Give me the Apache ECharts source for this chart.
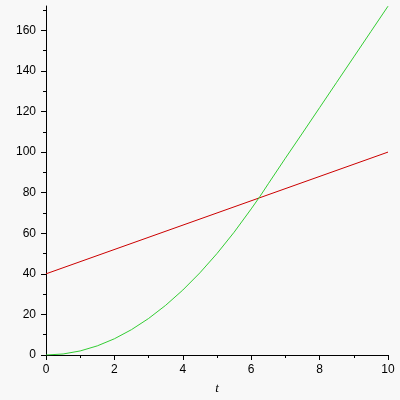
<!DOCTYPE html>
<html><head><meta charset="utf-8">
<script src="https://cdn.jsdelivr.net/npm/echarts@6/dist/echarts.min.js"></script>
<style>html,body{margin:0;padding:0;background:#f8f8f8;}#c{width:400px;height:400px;}</style>
</head><body><div id="c"></div>
<script>
const tValues = [0,0.5,1,1.5,2,2.5,3,3.5,4,4.5,5,5.5,6,6.25,6.5,7,7.5,8,8.5,9,9.5,10];
const greenValues = [0,0.5,2,4.5,8,12.5,18,24.5,32,40.5,50,60.5,72,78,84.4,97,109.4,121.9,134.4,146.9,159.4,171.9];
const redT = [0,10];
const redValues = [40,100];
const xMajorTicks = [0,2,4,6,8,10];
const xMinorTicks = [1,3,5,7,9];
const yMajorTicks = [0,20,40,60,80,100,120,140,160];
const yMinorTicks = [10,30,50,70,90,110,130,150,170];
const xMax = 10, yMax = 172;

const font = {fontFamily:'Liberation Sans', fontSize:12, color:'#000'};
const lineStyle = {color:'#000', width:1};
function xAxis(major){
  return {
    type:'value', min:0, max:xMax, position:'bottom',
    name: major ? 't' : '', nameLocation:'middle', nameGap:27,
    nameTextStyle:{fontFamily:'Liberation Serif', fontStyle:'italic', fontSize:13, color:'#000'},
    axisLine:{show:major, onZero:false, lineStyle},
    axisTick:{show:true, length: major?5:3, customValues: major?xMajorTicks:xMinorTicks, lineStyle},
    axisLabel:{show:major, margin:9, customValues:xMajorTicks, ...font},
    splitLine:{show:false}
  };
}
function yAxis(major){
  return {
    type:'value', min:0, max:yMax, position:'left',
    axisLine:{show:major, onZero:false, lineStyle},
    axisTick:{show:true, length: major?5:3, customValues: major?yMajorTicks:yMinorTicks, lineStyle},
    axisLabel:{show:major, margin:10, customValues:yMajorTicks, ...font},
    splitLine:{show:false}
  };
}
const chart = echarts.init(document.getElementById('c'), null, {renderer:'canvas'});
chart.setOption({
  backgroundColor:'#f8f8f8',
  animation:false,
  grid:{left:46, right:12, top:6, bottom:43, containLabel:false},
  xAxis:[xAxis(true), xAxis(false)],
  yAxis:[yAxis(true), yAxis(false)],
  series:[
    {type:'line', xAxisIndex:0, yAxisIndex:0, showSymbol:false, symbol:'none',
     data: redT.map((t,i)=>[t, redValues[i]]), lineStyle:{color:'#cc0000', width:1}},
    {type:'line', xAxisIndex:0, yAxisIndex:0, showSymbol:false, symbol:'none',
     data: tValues.map((t,i)=>[t, greenValues[i]]), lineStyle:{color:'#33cc33', width:1}}
  ]
});
</script></body></html>
